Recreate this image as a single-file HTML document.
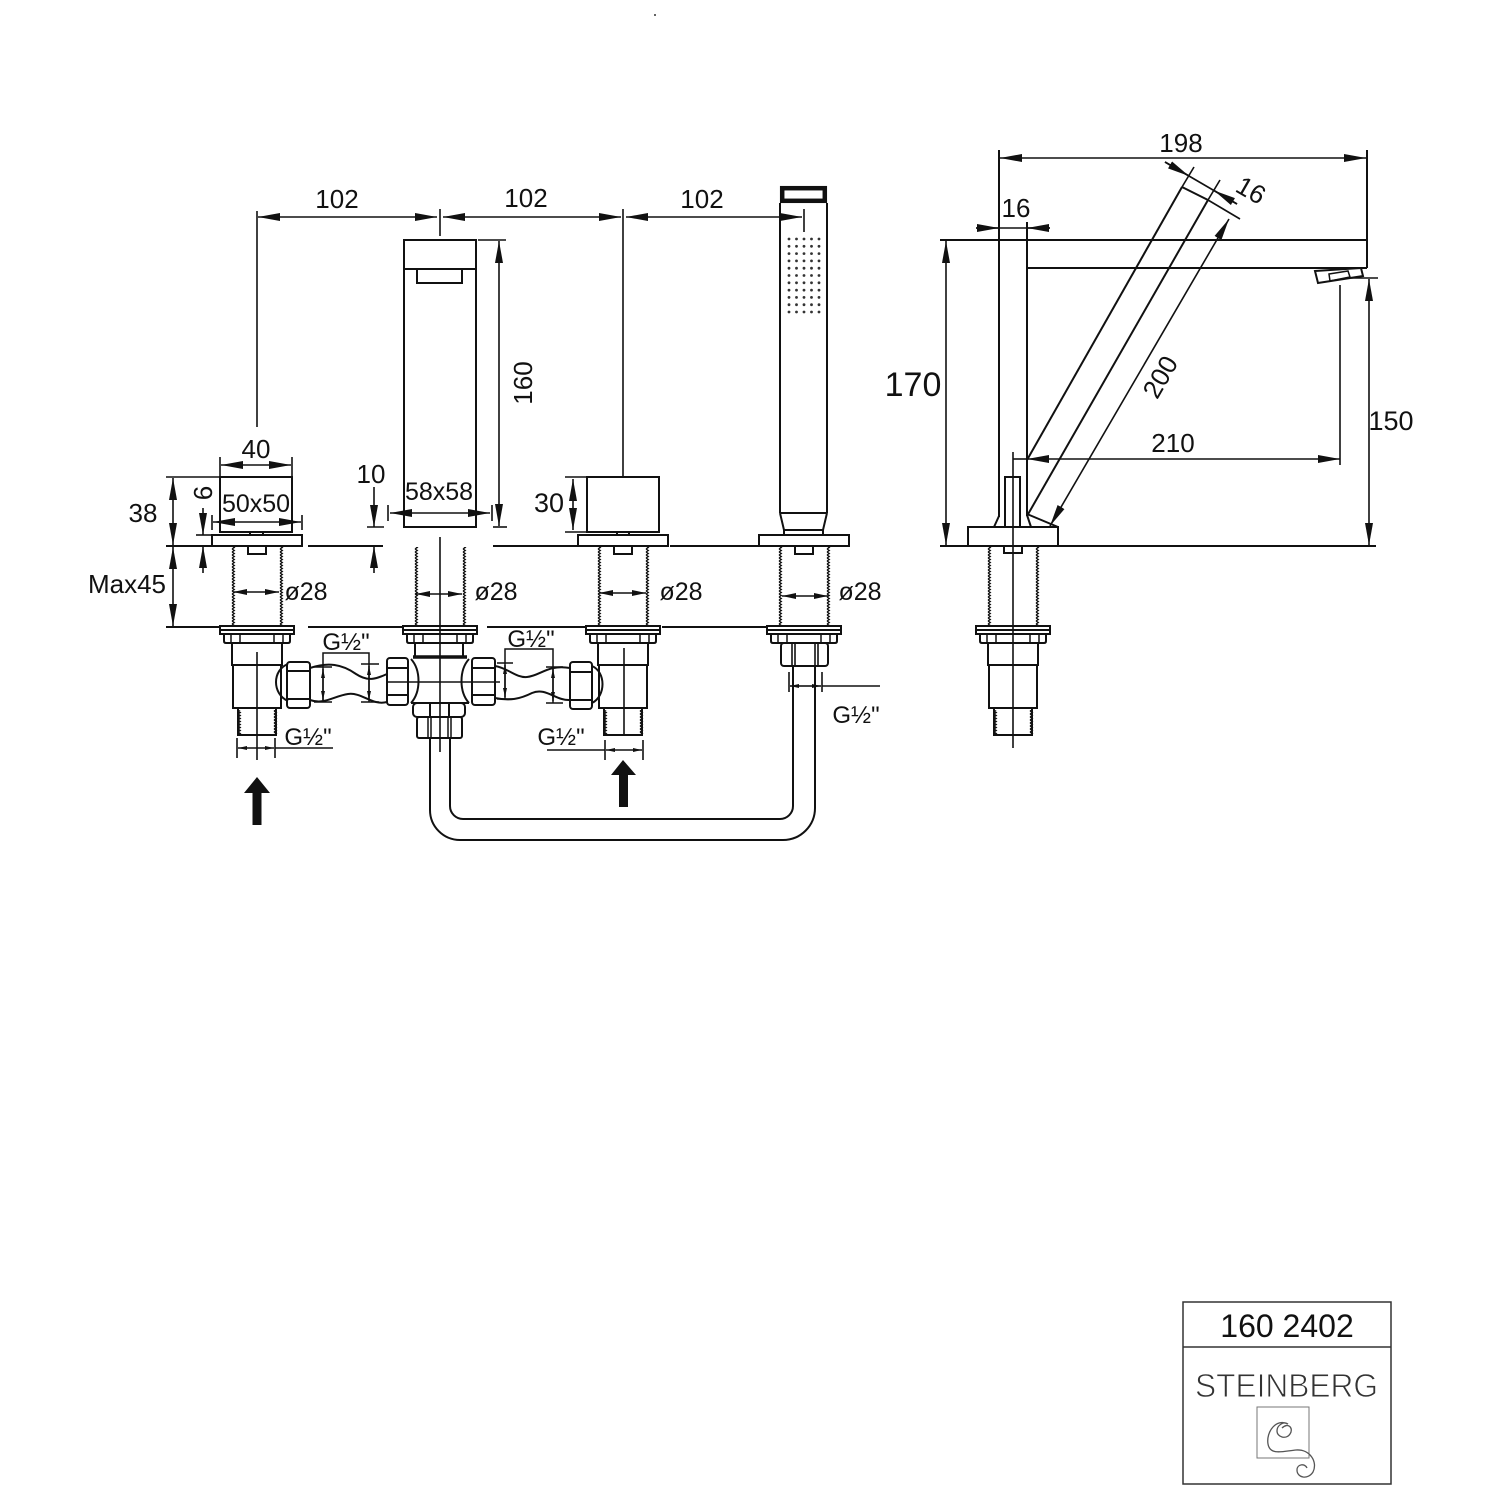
<!DOCTYPE html>
<html><head><meta charset="utf-8"><title>Drawing 160 2402</title>
<style>
html,body{margin:0;padding:0;background:#fff}
svg{display:block}
text{font-family:"Liberation Sans",Arial,sans-serif;fill:#111}
</style></head><body>
<svg xmlns="http://www.w3.org/2000/svg" width="1500" height="1500" viewBox="0 0 1500 1500" font-size="25">
<defs>
<marker id="A" viewBox="0 0 22 8" refX="22" refY="4" markerWidth="22" markerHeight="8" markerUnits="userSpaceOnUse" orient="auto-start-reverse"><path d="M0,0L22,4L0,8z" fill="#111"/></marker>
<marker id="S" viewBox="0 0 14 6" refX="14" refY="3" markerWidth="14" markerHeight="6" markerUnits="userSpaceOnUse" orient="auto-start-reverse"><path d="M0,0L14,3L0,6z" fill="#111"/></marker>
<marker id="T" viewBox="0 0 9 4" refX="9" refY="2" markerWidth="9" markerHeight="4" markerUnits="userSpaceOnUse" orient="auto-start-reverse"><path d="M0,0L9,2L0,4z" fill="#111"/></marker>
<pattern id="th" patternUnits="userSpaceOnUse" x="-3" y="0" width="6" height="3"><path d="M2,0L4.3,1.5L2,3" fill="none" stroke="#111" stroke-width="1.3"/></pattern>

<g id="vtop" fill="none" stroke="#111" stroke-width="2">
<rect x="-27" y="547" width="6" height="79" fill="url(#th)" stroke="none"/>
<rect x="21" y="547" width="6" height="79" fill="url(#th)" stroke="none"/>
<rect x="-37" y="626" width="74" height="8"/>
<line x1="-37" y1="630" x2="37" y2="630"/>
<path d="M-33,634V641Q-33,643 -31,643H31Q33,643 33,641V634"/>
<path d="M-26,634V643M-17,634V643M17,634V643M26,634V643" stroke-width="1.5"/>
</g>
<g id="vlow" fill="none" stroke="#111" stroke-width="2">
<rect x="-25" y="643" width="50" height="22"/>
<rect x="-24" y="665" width="48" height="43"/>
<rect x="-19" y="708" width="38" height="27"/>
<rect x="-21" y="710" width="6" height="24" fill="url(#th)" stroke="none"/>
<rect x="15" y="710" width="6" height="24" fill="url(#th)" stroke="none"/>
</g>
<g id="plate" fill="none" stroke="#111" stroke-width="2">
<rect x="-45" y="535" width="90" height="11"/>
<rect x="-9" y="546" width="18" height="8"/>
</g>
</defs>

<rect x="0" y="0" width="1500" height="1500" fill="#fff"/>
<circle cx="655" cy="15" r="1" fill="#333"/>

<!-- ================= FRONT VIEW ================= -->
<g fill="none" stroke="#111" stroke-width="1.6">
<line x1="258" y1="217" x2="437" y2="217" marker-start="url(#A)" marker-end="url(#A)"/>
<line x1="443" y1="217" x2="621" y2="217" marker-start="url(#A)" marker-end="url(#A)"/>
<line x1="626" y1="217" x2="802" y2="217" marker-start="url(#A)" marker-end="url(#A)"/>
<line x1="257" y1="211" x2="257" y2="427"/>
<line x1="440" y1="209" x2="440" y2="236"/>
<line x1="623" y1="209" x2="623" y2="477"/>
<line x1="804" y1="209" x2="804" y2="232"/>

<line x1="499" y1="241" x2="499" y2="526" marker-start="url(#A)" marker-end="url(#A)"/>
<line x1="478" y1="240" x2="506" y2="240"/>
<line x1="493" y1="527" x2="507" y2="527"/>

<line x1="390" y1="513" x2="490" y2="513" marker-start="url(#A)" marker-end="url(#A)"/>
<line x1="388" y1="505" x2="388" y2="521"/>
<line x1="492" y1="505" x2="492" y2="521"/>

<line x1="374" y1="487" x2="374" y2="527" marker-end="url(#A)"/>
<line x1="374" y1="573" x2="374" y2="546" marker-end="url(#A)"/>
<line x1="367" y1="527" x2="384" y2="527"/>

<line x1="221" y1="465" x2="291" y2="465" marker-start="url(#A)" marker-end="url(#A)"/>
<line x1="220" y1="457" x2="220" y2="477"/>
<line x1="292" y1="457" x2="292" y2="477"/>
<line x1="213" y1="522" x2="301" y2="522" marker-start="url(#A)" marker-end="url(#A)"/>
<line x1="212" y1="515" x2="212" y2="530"/>
<line x1="302" y1="515" x2="302" y2="530"/>
<line x1="173" y1="478" x2="173" y2="545" marker-start="url(#A)" marker-end="url(#A)"/>
<line x1="173" y1="547" x2="173" y2="626" marker-start="url(#A)" marker-end="url(#A)"/>
<line x1="166" y1="477" x2="220" y2="477"/>
<line x1="203" y1="508" x2="203" y2="535" marker-end="url(#A)"/>
<line x1="203" y1="573" x2="203" y2="546" marker-end="url(#A)"/>
<line x1="196" y1="535" x2="211" y2="535"/>
</g>

<g stroke="#111" stroke-width="2" fill="none">
<line x1="166" y1="546" x2="211" y2="546"/>
<line x1="308" y1="546" x2="383" y2="546"/>
<line x1="493" y1="546" x2="578" y2="546"/>
<line x1="670" y1="546" x2="758" y2="546"/>
<line x1="166" y1="627" x2="219" y2="627"/>
<line x1="308" y1="627" x2="403" y2="627"/>
<line x1="487" y1="627" x2="586" y2="627"/>
<line x1="662" y1="627" x2="767" y2="627"/>
</g>

<!-- Left unit -->
<g fill="none" stroke="#111" stroke-width="2">
<rect x="220" y="477" width="72" height="55"/>
<rect x="250" y="532" width="13" height="3"/>
</g>
<use href="#plate" x="257"/>
<use href="#vtop" x="257"/>
<use href="#vlow" x="257"/>

<!-- Spout -->
<g fill="none" stroke="#111" stroke-width="2">
<rect x="404" y="240" width="72" height="287"/>
<line x1="404" y1="269" x2="476" y2="269"/>
<rect x="417" y="269" width="45" height="14"/>
</g>
<use href="#vtop" x="440"/>

<!-- Middle tee -->
<g fill="none" stroke="#111" stroke-width="2">
<rect x="415" y="643" width="48" height="14"/>
<line x1="413" y1="657" x2="467" y2="657" stroke-width="3.5"/>
<line x1="411" y1="703" x2="469" y2="703"/>
<path d="M411,659C421,670 421,692 411,703"/>
<path d="M469,659C459,670 459,692 469,703"/>
<rect x="387" y="658" width="21" height="47" rx="3"/>
<line x1="387" y1="668" x2="408" y2="668"/>
<line x1="387" y1="695" x2="408" y2="695"/>
<rect x="472" y="658" width="23" height="47" rx="3"/>
<line x1="472" y1="668" x2="495" y2="668"/>
<line x1="472" y1="695" x2="495" y2="695"/>
<line x1="386" y1="682" x2="500" y2="682" stroke-width="1.5"/>
<rect x="413" y="703" width="52" height="14" rx="4"/>
<line x1="430" y1="703" x2="430" y2="717"/>
<line x1="449" y1="703" x2="449" y2="717"/>
<rect x="417" y="717" width="45" height="21" rx="2"/>
<path d="M428,717V738M431,717V738M448,717V738M451,717V738" stroke-width="1.5"/>
<line x1="440" y1="537" x2="440" y2="752" stroke-width="1.6"/>
</g>

<!-- Third unit (cube) -->
<g fill="none" stroke="#111" stroke-width="2">
<rect x="587" y="477" width="72" height="55"/>
<rect x="617" y="532" width="12" height="3"/>
</g>
<use href="#plate" x="623"/>
<use href="#vtop" x="623"/>
<use href="#vlow" x="623"/>
<g fill="none" stroke="#111" stroke-width="1.6">
<line x1="573" y1="479" x2="573" y2="530" marker-start="url(#A)" marker-end="url(#A)"/>
<line x1="565" y1="477" x2="587" y2="477"/>
<line x1="565" y1="532" x2="590" y2="532"/>
</g>

<!-- Hand shower -->
<g fill="none" stroke="#111" stroke-width="2">
<rect x="782.2" y="188.2" width="42.6" height="12.6" stroke-width="4.5"/>
<line x1="780" y1="203" x2="780" y2="513"/>
<line x1="827" y1="203" x2="827" y2="513"/>
<line x1="780" y1="513" x2="827" y2="513"/>
<path d="M780,513L784,530H823L827,513"/>
<path d="M784,530V535M823,530V535"/>
</g>
<g fill="#333">
<circle cx="789" cy="239" r="1.4"/><circle cx="796.5" cy="239" r="1.4"/><circle cx="804" cy="239" r="1.4"/><circle cx="811.5" cy="239" r="1.4"/><circle cx="819" cy="239" r="1.4"/>
<circle cx="789" cy="246.3" r="1.4"/><circle cx="796.5" cy="246.3" r="1.4"/><circle cx="804" cy="246.3" r="1.4"/><circle cx="811.5" cy="246.3" r="1.4"/><circle cx="819" cy="246.3" r="1.4"/>
<circle cx="789" cy="253.6" r="1.4"/><circle cx="796.5" cy="253.6" r="1.4"/><circle cx="804" cy="253.6" r="1.4"/><circle cx="811.5" cy="253.6" r="1.4"/><circle cx="819" cy="253.6" r="1.4"/>
<circle cx="789" cy="260.9" r="1.4"/><circle cx="796.5" cy="260.9" r="1.4"/><circle cx="804" cy="260.9" r="1.4"/><circle cx="811.5" cy="260.9" r="1.4"/><circle cx="819" cy="260.9" r="1.4"/>
<circle cx="789" cy="268.2" r="1.4"/><circle cx="796.5" cy="268.2" r="1.4"/><circle cx="804" cy="268.2" r="1.4"/><circle cx="811.5" cy="268.2" r="1.4"/><circle cx="819" cy="268.2" r="1.4"/>
<circle cx="789" cy="275.5" r="1.4"/><circle cx="796.5" cy="275.5" r="1.4"/><circle cx="804" cy="275.5" r="1.4"/><circle cx="811.5" cy="275.5" r="1.4"/><circle cx="819" cy="275.5" r="1.4"/>
<circle cx="789" cy="282.8" r="1.4"/><circle cx="796.5" cy="282.8" r="1.4"/><circle cx="804" cy="282.8" r="1.4"/><circle cx="811.5" cy="282.8" r="1.4"/><circle cx="819" cy="282.8" r="1.4"/>
<circle cx="789" cy="290.1" r="1.4"/><circle cx="796.5" cy="290.1" r="1.4"/><circle cx="804" cy="290.1" r="1.4"/><circle cx="811.5" cy="290.1" r="1.4"/><circle cx="819" cy="290.1" r="1.4"/>
<circle cx="789" cy="297.4" r="1.4"/><circle cx="796.5" cy="297.4" r="1.4"/><circle cx="804" cy="297.4" r="1.4"/><circle cx="811.5" cy="297.4" r="1.4"/><circle cx="819" cy="297.4" r="1.4"/>
<circle cx="789" cy="304.7" r="1.4"/><circle cx="796.5" cy="304.7" r="1.4"/><circle cx="804" cy="304.7" r="1.4"/><circle cx="811.5" cy="304.7" r="1.4"/><circle cx="819" cy="304.7" r="1.4"/>
<circle cx="789" cy="312" r="1.4"/><circle cx="796.5" cy="312" r="1.4"/><circle cx="804" cy="312" r="1.4"/><circle cx="811.5" cy="312" r="1.4"/><circle cx="819" cy="312" r="1.4"/>
</g>
<use href="#plate" x="804"/>
<use href="#vtop" x="804"/>
<g fill="none" stroke="#111" stroke-width="2">
<rect x="781" y="643" width="47" height="23" rx="3"/>
<path d="M792,643V666M795,643V666M815,643V666M818,643V666" stroke-width="1.6"/>
</g>

<!-- U hose -->
<g fill="none" stroke="#111" stroke-width="2">
<path d="M430,738V810A30,30 0 0 0 460,840H783A32,32 0 0 0 815,808V666"/>
<path d="M450,738V806A13,13 0 0 0 463,819H780A13,13 0 0 0 793,806V666"/>
</g>

<g fill="none" stroke="#111" stroke-width="2">
<path d="M288,664C272,670 272,694 288,701"/>
<rect x="287" y="662" width="23" height="46" rx="3"/>
<line x1="287" y1="671" x2="310" y2="671"/>
<line x1="287" y1="699" x2="310" y2="699"/>
<path d="M310,668C328,662 342,664 356,674C368,682 376,679 387,674"/>
<path d="M310,700C324,705 334,696 348,694C362,692 372,706 387,702"/>
<path d="M495,666C508,668 516,678 527,677C540,676 548,664 570,668"/>
<path d="M495,698C510,701 520,699 532,693C546,687 556,701 570,700"/>
<rect x="570" y="662" width="22" height="47" rx="3"/>
<line x1="570" y1="672" x2="592" y2="672"/>
<line x1="570" y1="700" x2="592" y2="700"/>
<path d="M592,666C606,672 606,696 592,703"/>
</g>

<g fill="none" stroke="#111" stroke-width="1.5">
<path d="M323,702V653H369V702"/>
<path d="M314,667H332M314,702H332M361,664H379M361,702H379"/>
<line x1="323" y1="685" x2="323" y2="669" marker-end="url(#T)"/>
<line x1="323" y1="685" x2="323" y2="700" marker-end="url(#T)"/>
<line x1="369" y1="683" x2="369" y2="666" marker-end="url(#T)"/>
<line x1="369" y1="683" x2="369" y2="700" marker-end="url(#T)"/>
<path d="M505,700V649H553V703"/>
<path d="M497,663H513M497,699H513M546,667H563M546,703H563"/>
<line x1="505" y1="681" x2="505" y2="665" marker-end="url(#T)"/>
<line x1="505" y1="681" x2="505" y2="697" marker-end="url(#T)"/>
<line x1="553" y1="685" x2="553" y2="669" marker-end="url(#T)"/>
<line x1="553" y1="685" x2="553" y2="701" marker-end="url(#T)"/>
</g>

<g fill="none" stroke="#111" stroke-width="1.6">
<line x1="257" y1="652" x2="257" y2="760"/>
<line x1="624" y1="648" x2="624" y2="736"/>
<line x1="237" y1="738" x2="237" y2="758"/>
<line x1="275" y1="738" x2="275" y2="758"/>
<line x1="275" y1="748" x2="333" y2="748"/>
<line x1="256" y1="748" x2="238" y2="748" marker-end="url(#T)"/>
<line x1="256" y1="748" x2="274" y2="748" marker-end="url(#T)"/>
<line x1="605" y1="740" x2="605" y2="760"/>
<line x1="643" y1="740" x2="643" y2="760"/>
<line x1="547" y1="750" x2="605" y2="750"/>
<line x1="624" y1="750" x2="606" y2="750" marker-end="url(#T)"/>
<line x1="624" y1="750" x2="642" y2="750" marker-end="url(#T)"/>
<line x1="789" y1="672" x2="789" y2="692"/>
<line x1="822" y1="672" x2="822" y2="692"/>
<line x1="822" y1="686" x2="880" y2="686"/>
<line x1="805" y1="686" x2="790" y2="686" marker-end="url(#T)"/>
<line x1="805" y1="686" x2="821" y2="686" marker-end="url(#T)"/>
<line x1="257" y1="592" x2="233" y2="592" marker-end="url(#S)"/>
<line x1="257" y1="592" x2="279" y2="592" marker-end="url(#S)"/>
<line x1="440" y1="594" x2="416" y2="594" marker-end="url(#S)"/>
<line x1="440" y1="594" x2="462" y2="594" marker-end="url(#S)"/>
<line x1="623" y1="593" x2="599" y2="593" marker-end="url(#S)"/>
<line x1="623" y1="593" x2="646" y2="593" marker-end="url(#S)"/>
<line x1="805" y1="596" x2="782" y2="596" marker-end="url(#S)"/>
<line x1="805" y1="596" x2="828" y2="596" marker-end="url(#S)"/>
</g>
<polygon points="257,777 244,793 252.5,793 252.5,825 261.5,825 261.5,793 270,793" fill="#111"/>
<polygon points="623,760 611,775 619,775 619,807 628,807 628,775 636,775" fill="#111"/>

<!-- front texts -->
<text x="337" y="208" text-anchor="middle" font-size="26">102</text>
<text x="526" y="207" text-anchor="middle" font-size="26">102</text>
<text x="702" y="208" text-anchor="middle" font-size="26">102</text>
<text transform="translate(532,383) rotate(-90)" text-anchor="middle" font-size="26">160</text>
<text x="256" y="458" text-anchor="middle" font-size="26">40</text>
<text x="256" y="512" text-anchor="middle">50x50</text>
<text x="143" y="522" text-anchor="middle" font-size="26">38</text>
<text transform="translate(212,493) rotate(-90)" text-anchor="middle" font-size="26">6</text>
<text x="127" y="593" text-anchor="middle" font-size="26">Max45</text>
<text x="371" y="483" text-anchor="middle" font-size="26">10</text>
<text x="439" y="500" text-anchor="middle">58x58</text>
<text x="306" y="600" text-anchor="middle">ø28</text>
<text x="496" y="600" text-anchor="middle">ø28</text>
<text x="681" y="600" text-anchor="middle">ø28</text>
<text x="860" y="600" text-anchor="middle">ø28</text>
<text x="549" y="512" text-anchor="middle" font-size="27">30</text>
<text x="346" y="650" text-anchor="middle" font-size="24">G½"</text>
<text x="308" y="745" text-anchor="middle" font-size="24">G½"</text>
<text x="531" y="647" text-anchor="middle" font-size="24">G½"</text>
<text x="561" y="745" text-anchor="middle" font-size="24">G½"</text>
<text x="856" y="723" text-anchor="middle" font-size="24">G½"</text>

<!-- ================= SIDE VIEW ================= -->
<g fill="none" stroke="#111" stroke-width="1.6">
<line x1="1000" y1="158" x2="1366" y2="158" marker-start="url(#A)" marker-end="url(#A)"/>
<line x1="976" y1="228" x2="1050" y2="228"/>
<line x1="976" y1="228" x2="999" y2="228" marker-end="url(#A)"/>
<line x1="1050" y1="228" x2="1027" y2="228" marker-end="url(#A)"/>
<line x1="946" y1="241" x2="946" y2="545" marker-start="url(#A)" marker-end="url(#A)"/>
<line x1="1369" y1="279" x2="1369" y2="545" marker-start="url(#A)" marker-end="url(#A)"/>
<line x1="1348" y1="278" x2="1378" y2="278"/>
<line x1="1027" y1="459" x2="1340" y2="459" marker-start="url(#A)" marker-end="url(#A)"/>
<line x1="1013" y1="459" x2="1027" y2="459"/>
<line x1="1340" y1="285" x2="1340" y2="465"/>
<line x1="1165" y1="162" x2="1237" y2="204"/>
<line x1="1165" y1="162" x2="1189" y2="176" marker-end="url(#A)"/>
<line x1="1237" y1="204" x2="1214" y2="190.5" marker-end="url(#A)"/>
<line x1="1182" y1="187" x2="1194" y2="167"/>
<line x1="1208" y1="200" x2="1220" y2="180"/>
<line x1="1208" y1="200" x2="1240" y2="219"/>
<line x1="1229" y1="219" x2="1050" y2="526" marker-start="url(#A)" marker-end="url(#A)"/>
<line x1="1013" y1="452" x2="1013" y2="748"/>
</g>
<g fill="none" stroke="#111" stroke-width="2">
<line x1="940" y1="240" x2="1367" y2="240"/>
<line x1="1027" y1="268" x2="1367" y2="268"/>
<line x1="1367" y1="150" x2="1367" y2="268"/>
<line x1="999" y1="150" x2="999" y2="517"/>
<line x1="1027" y1="222" x2="1027" y2="516"/>
<path d="M999,516L994,527"/>
<path d="M1027,515L1031,527"/>
<line x1="1182" y1="187" x2="1208" y2="200"/>
<line x1="1182" y1="187" x2="1027" y2="460"/>
<line x1="1208" y1="200" x2="1027" y2="516"/>
<line x1="1027" y1="514" x2="1058" y2="527"/>
<polygon points="1315,271 1361,268 1363,276 1318,283"/>
<polygon points="1329,274 1348,271 1350,277 1330,281" stroke-width="1.5"/>
<rect x="1005" y="477" width="15" height="50"/>
<rect x="968" y="527" width="90" height="19"/>
<rect x="1004" y="546" width="18" height="7"/>
<line x1="940" y1="546" x2="968" y2="546"/>
<line x1="1058" y1="546" x2="1376" y2="546"/>
</g>
<use href="#vtop" x="1013"/>
<use href="#vlow" x="1013"/>

<text x="1181" y="152" text-anchor="middle" font-size="26">198</text>
<text x="1016" y="217" text-anchor="middle" font-size="26">16</text>
<text transform="translate(1250,192) rotate(30)" text-anchor="middle" dominant-baseline="middle" font-size="26">16</text>
<text x="913" y="396" text-anchor="middle" font-size="34">170</text>
<text transform="translate(1162,378) rotate(-60)" text-anchor="middle" dominant-baseline="middle" font-size="26">200</text>
<text x="1173" y="452" text-anchor="middle" font-size="26">210</text>
<text x="1391" y="430" text-anchor="middle" font-size="27">150</text>

<!-- ================= TITLE BOX ================= -->
<g fill="none" stroke="#333" stroke-width="1.5">
<rect x="1183" y="1302" width="208" height="182"/>
<line x1="1183" y1="1347" x2="1391" y2="1347"/>
</g>
<text x="1287" y="1337" text-anchor="middle" font-size="32">160 2402</text>
<text x="1195" y="1397" font-size="33" textLength="183" lengthAdjust="spacingAndGlyphs" style="fill:#333;stroke:#fff;stroke-width:0.9">STEINBERG</text>
<rect x="1257" y="1407" width="52" height="51" fill="none" stroke="#777" stroke-width="1"/>
<path d="M1282,1428C1288,1422 1294,1428 1290,1434C1286,1440 1277,1437 1277,1431C1277,1425 1284,1421 1288,1424C1276,1418 1266,1432 1268,1444C1270,1456 1284,1451 1296,1450C1310,1449 1318,1462 1313,1472C1308,1480 1297,1478 1297,1470C1297,1464 1305,1463 1307,1468" fill="none" stroke="#555" stroke-width="1.3"/>
</svg>
</body></html>
